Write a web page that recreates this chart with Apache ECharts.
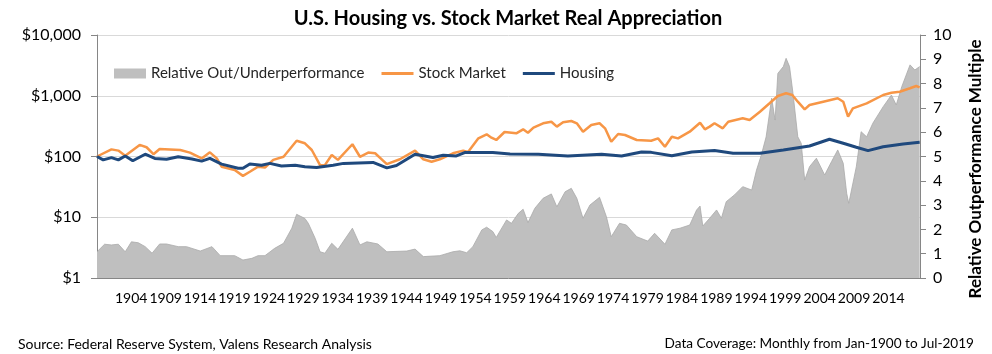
<!DOCTYPE html>
<html>
<head>
<meta charset="utf-8">
<script src="https://cdn.jsdelivr.net/npm/echarts@6/dist/echarts.min.js"></script>
<style>
  html, body { margin: 0; padding: 0; background: #fff; }
  #chart { width: 992px; height: 354px; }
</style>
</head>
<body>
<div id="chart"></div>
<script>
// 股市（实际价值，起点 100）
const stockYears = [1900.0,1902.1,1903.1,1904.1,1906.2,1907.2,1908.2,1909.1,1912.1,1913.5,1915.2,1916.4,1917.4,1918.1,1920.0,1921.2,1922.2,1923.4,1924.4,1925.6,1927.1,1929.0,1930.2,1931.2,1932.4,1933.1,1934.1,1935.0,1937.1,1938.2,1939.4,1940.4,1942.1,1944.0,1946.2,1947.4,1948.6,1949.8,1951.7,1953.2,1953.9,1955.4,1956.6,1957.3,1958.0,1959.2,1960.9,1961.9,1962.6,1963.4,1964.8,1966.0,1966.8,1967.7,1968.9,1969.7,1970.6,1971.8,1973.0,1973.8,1974.7,1975.7,1976.7,1978.4,1980.5,1981.5,1982.5,1983.5,1984.4,1986.1,1987.6,1988.3,1989.0,1989.7,1990.9,1991.7,1993.8,1994.8,1996.3,1997.7,1998.9,2000.1,2001.0,2001.8,2002.8,2003.5,2005.5,2007.6,2008.4,2009.1,2009.8,2011.8,2014.2,2015.4,2016.6,2018.1,2019.0,2019.5];
const stockValues = [100,131,125,103,155,142,109,133,128,116,93,117,93,68,60,48,56,68,66,88,99,182,165,128,72,72,106,88,159,99,116,113,75,90,125,90,82,90,113,125,119,199,232,204,187,253,241,280,246,298,352,374,310,365,384,352,256,330,352,291,175,235,226,187,182,199,145,212,199,256,360,280,310,352,291,374,425,399,546,751,991,1097,1029,798,598,704,798,908,798,452,621,751,1029,1122,1166,1327,1446,1377];

// 房价（实际价值，起点 100）
const housingYears = [1900.0,1900.9,1902.1,1903.1,1904.1,1905.2,1907.0,1908.4,1910.1,1911.8,1913.8,1915.2,1916.4,1918.1,1920.5,1921.2,1922.2,1923.9,1925.1,1926.8,1928.8,1930.2,1931.9,1934.3,1935.8,1940.1,1942.1,1943.5,1946.2,1948.8,1950.3,1952.2,1953.4,1957.5,1960.0,1964.1,1968.4,1973.3,1976.2,1979.1,1980.5,1983.5,1986.4,1989.7,1992.4,1996.3,1999.7,2003.5,2006.4,2008.4,2010.3,2012.0,2014.2,2017.1,2019.5];
const housingValues = [100,88,96,88,102,85,109,93,90,99,91,84,93,75,64,64,75,72,77,70,72,68,66,72,77,80,65,71,109,96,105,102,116,116,110,109,102,109,102,119,117,103,119,126,113,113,128,149,192,165,142,125,145,161,171];

// 相对超额/落后倍数（右轴）
const relYears = [1900.0,1901.1,1902.1,1903.1,1904.1,1905.0,1906.0,1907.0,1908.0,1909.1,1910.1,1911.8,1913.0,1915.0,1916.7,1917.9,1920.0,1921.2,1922.5,1923.4,1924.4,1925.8,1927.1,1928.3,1929.0,1930.2,1930.7,1931.7,1932.4,1933.1,1934.1,1935.0,1937.1,1938.2,1939.2,1940.8,1942.1,1945.0,1946.2,1947.4,1949.8,1951.7,1952.7,1953.7,1954.6,1955.9,1956.6,1957.5,1958.0,1959.5,1960.2,1961.2,1961.9,1962.6,1963.6,1964.8,1966.0,1966.8,1968.0,1968.9,1969.7,1970.6,1971.6,1973.0,1974.0,1974.7,1975.9,1976.9,1978.4,1980.0,1981.0,1982.5,1983.5,1984.7,1986.1,1987.1,1987.6,1988.0,1989.0,1990.0,1990.7,1991.4,1992.6,1993.8,1995.1,1995.8,1996.5,1997.2,1998.0,1998.5,1998.9,1999.7,2000.1,2000.6,2001.1,2001.8,2002.3,2002.8,2003.5,2004.5,2005.7,2006.7,2007.6,2008.4,2008.9,2009.2,2010.3,2011.0,2011.8,2012.7,2014.2,2015.4,2016.1,2016.9,2018.1,2018.8,2019.5];
const relValues = [1.08,1.39,1.36,1.39,1.08,1.49,1.45,1.29,1.02,1.40,1.40,1.29,1.29,1.11,1.29,0.92,0.92,0.74,0.81,0.92,0.92,1.22,1.43,2.05,2.62,2.45,2.25,1.63,1.08,1.02,1.43,1.18,2.05,1.36,1.49,1.40,1.08,1.11,1.19,0.88,0.92,1.08,1.12,1.04,1.29,1.98,2.09,1.91,1.67,2.39,2.25,2.66,2.83,2.28,2.87,3.28,3.46,2.93,3.55,3.69,3.28,2.46,3.00,3.32,2.52,1.70,2.25,2.18,1.70,1.52,1.84,1.39,1.98,2.05,2.18,2.80,2.96,2.14,2.46,2.80,2.46,3.14,3.42,3.76,3.62,4.44,5.06,5.81,7.40,6.50,8.42,8.70,9.04,8.70,7.60,5.81,5.54,4.03,4.58,4.93,4.24,4.79,5.27,4.72,3.49,3.07,4.58,6.02,5.81,6.37,7.05,7.53,7.12,7.87,8.77,8.56,8.70];

// X 轴标签年份
const xLabelYears = [1904,1909,1914,1919,1924,1929,1934,1939,1944,1949,1954,1959,1964,1969,1974,1979,1984,1989,1994,1999,2004,2009,2014];

const FONT = 'Lato';
const pairs = (xs, ys) => xs.map((x, i) => [x, ys[i]]);

const chart = echarts.init(document.getElementById('chart'));
const option = {
  animation: false,
  textStyle: { fontFamily: FONT },
  title: [
    {
      text: 'U.S. Housing vs. Stock Market Real Appreciation',
      left: 503, top: 4, textAlign: 'center',
      textStyle: { fontFamily: FONT, fontSize: 20, fontWeight: 'bold', color: '#000' }
    },
    {
      text: 'Source: Federal Reserve System, Valens Research Analysis',
      left: 13, top: 332,
      textStyle: { fontFamily: FONT, fontSize: 14, fontWeight: 'normal', color: '#000' }
    },
    {
      text: 'Data Coverage: Monthly from Jan-1900 to Jul-2019',
      right: 13, top: 332,
      textStyle: { fontFamily: FONT, fontSize: 13.6, fontWeight: 'normal', color: '#000' }
    }
  ],
  legend: {
    left: 109, top: 61,
    itemWidth: 32, itemHeight: 10, itemGap: 17,
    textStyle: { fontFamily: FONT, fontSize: 15, color: '#262626' },
    data: [
      { name: 'Relative Out/Underperformance', icon: 'rect' },
      { name: 'Stock Market', icon: 'path://M0 0H32V3H0Z' },
      { name: 'Housing', icon: 'path://M0 0H32V3H0Z' }
    ]
  },
  grid: { left: 97, right: 72, top: 35, bottom: 76, outerBoundsMode: 'none' },
  xAxis: {
    type: 'value',
    min: 1900, max: 2019.55,
    splitLine: { show: false },
    axisLine: { show: true, lineStyle: { color: '#868686', width: 1 } },
    axisTick: { show: false },
    axisLabel: {
      customValues: xLabelYears.map(y => y + 0.97),
      formatter: v => String(Math.floor(v)),
      fontFamily: FONT, fontSize: 14, color: '#000', margin: 13
    }
  },
  yAxis: [
    {
      type: 'log', logBase: 10, min: 1, max: 10000,
      axisLine: { show: true, lineStyle: { color: '#868686' } },
      axisTick: { show: true, length: 6, lineStyle: { color: '#868686' } },
      minorTick: { show: false },
      splitLine: { show: true, lineStyle: { color: '#D9D9D9', width: 1 } },
      axisLabel: {
        formatter: v => '$' + Math.round(v).toLocaleString('en-US'),
        fontFamily: FONT, fontSize: 16, color: '#000', margin: 16
      }
    },
    {
      type: 'value', min: 0, max: 10, interval: 1,
      position: 'right',
      name: 'Relative Outperformance Multiple',
      nameLocation: 'middle', nameRotate: 90, nameGap: 47,
      nameTextStyle: { fontFamily: FONT, fontSize: 17, fontWeight: 'bold', color: '#000', padding: [0, 25, 0, 0] },
      axisLine: { show: true, lineStyle: { color: '#868686' } },
      axisTick: { show: true, length: 6, lineStyle: { color: '#868686' } },
      splitLine: { show: false },
      axisLabel: { fontFamily: FONT, fontSize: 16, color: '#000', margin: 13 }
    }
  ],
  series: [
    {
      name: 'Relative Out/Underperformance',
      type: 'line', yAxisIndex: 1,
      data: pairs(relYears, relValues),
      symbol: 'none', showSymbol: false,
      itemStyle: { color: '#BFBFBF' },
      lineStyle: { color: '#A9A9A9', width: 0.8 },
      areaStyle: { color: '#BFBFBF', opacity: 1 },
      z: 1
    },
    {
      name: 'Stock Market',
      type: 'line', yAxisIndex: 0,
      data: pairs(stockYears, stockValues),
      symbol: 'none', showSymbol: false,
      itemStyle: { color: '#F79646' },
      lineStyle: { color: '#F79646', width: 2.5 },
      z: 2
    },
    {
      name: 'Housing',
      type: 'line', yAxisIndex: 0,
      data: pairs(housingYears, housingValues),
      symbol: 'none', showSymbol: false,
      itemStyle: { color: '#1F497D' },
      lineStyle: { color: '#1F497D', width: 3 },
      z: 3
    }
  ]
};
chart.setOption(option);
</script>
</body>
</html>
